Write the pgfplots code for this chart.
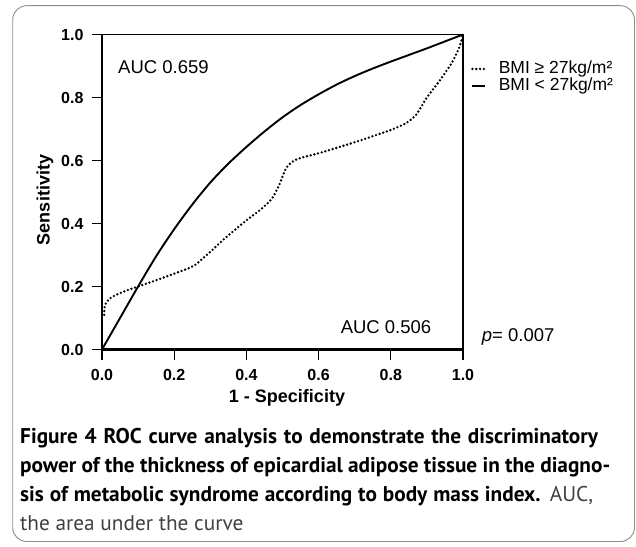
\documentclass[border=0pt]{standalone}
\usepackage{pgfplots}
\pgfplotsset{compat=1.18}
\usepackage{fontspec}
\setmainfont{Liberation Sans}
\newfontfamily\capfont{PT Sans}
\begin{document}
\begin{tikzpicture}[x=1pt,y=1pt]
\path[use as bounding box] (0,0) rectangle (636,546);
\draw[black!45, line width=0.9pt, rounded corners=14pt] (12.7,540.3) rectangle (634.5,4.5);
\begin{axis}[
  at={(102pt,196.5pt)}, anchor=south west,
  scale only axis, width=361pt, height=315pt,
  xmin=0, xmax=1, ymin=0, ymax=1,
  xtick={0,0.2,0.4,0.6,0.8,1.0},
  ytick={0,0.2,0.4,0.6,0.8,1.0},
  tick pos=left, tick align=outside,
  major tick length=10pt,
  every tick/.style={black, line width=1.2pt},
  axis line style={line width=1.2pt},
  /pgf/number format/assume math mode=true,
  /pgf/number format/fixed, /pgf/number format/fixed zerofill, /pgf/number format/precision=1,
  tick label style={font=\fontsize{16}{16}\selectfont\bfseries},
  xticklabel style={yshift=-6pt},
  yticklabel style={xshift=-5pt},
  clip=false,
  legend style={at={(rel axis cs:1.022,0.915)}, anchor=north west, draw=none, fill=none,
    font=\fontsize{17.5}{17.5}\selectfont, row sep=2.2pt, inner sep=0pt,
    nodes={inner sep=0pt, text height=12pt, text depth=3pt}},
  legend cell align=left,
  legend image code/.code={\draw[#1] (0pt,0pt) -- (13pt,0pt); \path (25pt,0pt);},
]
\addplot[black, line width=2.6pt, dash pattern=on 0pt off 3.8pt, line cap=round, smooth, tension=0.4] coordinates {
(0.006,0.11)(0.008,0.14)(0.02,0.16)(0.036,0.172)(0.07,0.188)(0.1,0.2)(0.165,0.226)(0.21,0.245)(0.24,0.258)(0.26,0.27)(0.28,0.29)(0.3,0.31)(0.33,0.342)(0.36,0.372)(0.4,0.41)(0.44,0.445)(0.47,0.478)(0.49,0.52)(0.51,0.576)(0.53,0.598)(0.55,0.608)(0.6,0.623)(0.65,0.64)(0.7,0.658)(0.75,0.677)(0.8,0.697)(0.84,0.717)(0.87,0.745)(0.9,0.8)(0.935,0.853)(0.97,0.912)(0.99,0.96)(1,1)
};
\addlegendentry{BMI ≥ 27kg/m²}
\addplot[black, line width=1.9pt, smooth] coordinates {
(0,0)(0.05,0.1)(0.1,0.2)(0.15,0.296)(0.2,0.382)(0.25,0.46)(0.3,0.53)(0.35,0.59)(0.4,0.643)(0.45,0.692)(0.5,0.737)(0.55,0.776)(0.6,0.81)(0.65,0.841)(0.7,0.868)(0.75,0.892)(0.8,0.914)(0.85,0.935)(0.9,0.956)(0.95,0.978)(1,1)
};
\addlegendentry{BMI < 27kg/m²}
\draw[line width=2.3pt] (rel axis cs:0,1) -- (rel axis cs:0,0) -- (rel axis cs:1,0);
\end{axis}
\node[rotate=90, font=\fontsize{18}{18}\selectfont\bfseries, inner sep=0pt] at (45,346) {Sensitivity};
\node[font=\fontsize{18}{18}\selectfont\bfseries, inner sep=0pt] at (287,148) {1 - Specificity};
\node[anchor=base west, font=\fontsize{18.5}{18.5}\selectfont, inner sep=0pt] at (118,472.7) {AUC 0.659};
\node[anchor=base, font=\fontsize{18.5}{18.5}\selectfont, inner sep=0pt] at (386,212.7) {AUC 0.506};
\node[anchor=base west, font=\fontsize{18.5}{18.5}\selectfont, inner sep=0pt] at (481.7,204.3) {\textit{p}= 0.007};
\begin{scope}[every node/.style={anchor=base west, inner sep=0pt, font=\capfont\fontsize{21.3}{21.3}\selectfont}]
\node at (20,103) {\makebox[578pt][s]{\textbf{Figure 4 ROC curve analysis to demonstrate the discriminatory}}};
\node at (20,73.5) {\makebox[590pt][s]{\textbf{power of the thickness of epicardial adipose tissue in the diagno-}}};
\node at (20,44.5) {\makebox[573pt][s]{\textbf{sis of metabolic syndrome according to body mass index.} \textcolor{black!75}{AUC,}}};
\node at (20,16) {\textcolor{black!75}{the area under the curve}};
\end{scope}
\end{tikzpicture}
\end{document}
